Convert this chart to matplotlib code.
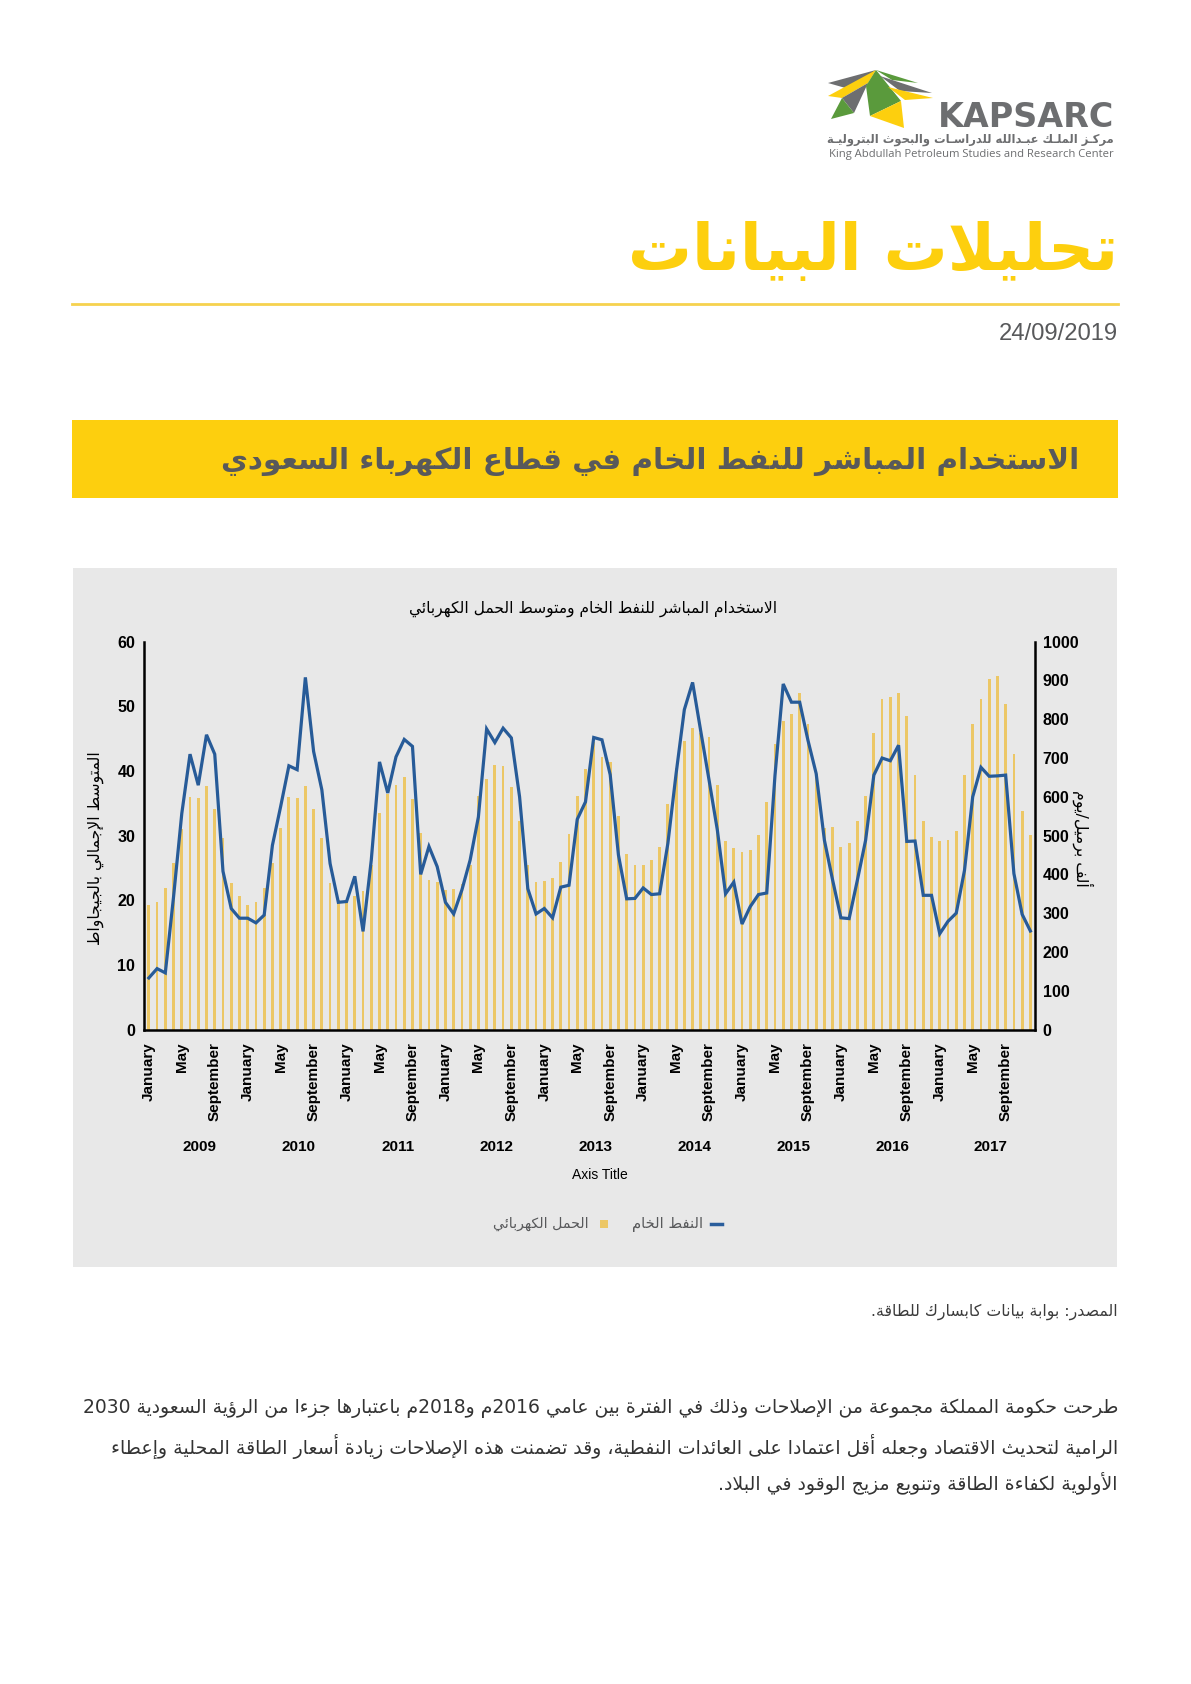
import matplotlib as mpl
mpl.use("Agg")
import matplotlib.pyplot as plt
from matplotlib import font_manager
from matplotlib.patches import Rectangle, Polygon
from matplotlib.lines import Line2D

# ---------------- data ----------------
years = list(range(2009, 2018))
month_names = ["January", "May", "September"]

# average electric load, GW (left axis) - one value per month, Jan 2009 .. Dec 2017
load_gw = [
    19.2, 19.8, 21.9, 25.7, 31.0, 36.0, 35.8, 37.7, 34.1, 29.6, 22.6, 20.7,
    19.2, 19.8, 21.9, 25.8, 31.1, 36.0, 35.8, 37.7, 34.1, 29.6, 22.6, 20.0,
    20.0, 20.6, 21.5, 25.4, 33.5, 36.4, 37.9, 39.1, 35.7, 30.4, 23.1, 22.8,
    21.6, 21.8, 22.5, 25.5, 36.1, 38.8, 41.0, 40.7, 37.5, 32.2, 25.5, 22.8,
    22.9, 23.4, 25.9, 30.2, 36.1, 40.3, 44.5, 42.1, 41.4, 33.0, 27.2, 25.5,
    25.5, 26.2, 28.2, 34.9, 40.5, 44.7, 46.6, 45.8, 45.2, 37.9, 29.1, 28.1,
    27.5, 27.8, 30.1, 35.2, 44.2, 47.8, 48.8, 52.1, 47.2, 39.6, 31.1, 31.3,
    28.3, 28.9, 32.2, 36.2, 45.9, 51.1, 51.4, 52.1, 48.5, 39.4, 32.3, 29.8,
    29.1, 29.3, 30.7, 39.4, 47.2, 51.2, 54.2, 54.7, 50.3, 42.7, 33.8, 30.1,
]

# crude oil burned directly, thousand barrels/day (right axis)
crude_kbd = [
    133, 157, 146, 342, 557, 710, 630, 760, 710, 408, 312, 287,
    287, 275, 295, 475, 575, 680, 670, 908, 717, 618, 428, 328,
    330, 395, 253, 437, 690, 610, 703, 748, 730, 400, 472, 420,
    328, 298, 360, 437, 548, 775, 740, 777, 752, 600, 363, 298,
    312, 288, 367, 372, 542, 587, 753, 747, 657, 450, 337, 338,
    365, 348, 350, 480, 660, 825, 895, 768, 643, 515, 350, 380,
    272, 317, 348, 352, 655, 891, 844, 844, 746, 660, 488, 385,
    288, 286, 385, 488, 656, 700, 693, 733, 485, 486, 346, 346,
    247, 279, 300, 410, 600, 676, 653, 654, 656, 402, 297, 254,
]

page_title = "تحليلات البيانات"
page_date = "24/09/2019"
banner_title = "الاستخدام المُباشر للنفط الخام في قطاع الكهرباء السعودي"
chart_title = "الاستخدام المباشر للنفط الخام ومتوسط الحمل الكهربائي"
left_label = "المتوسط الإجمالي بالجيجاواط"
right_label = "ألف برميل/يوم"
legend_oil = "النفط الخام"
legend_load = "الحمل الكهربائي"
source_note = "المصدر: بوابة بيانات كابسارك للطاقة."
body_lines = [
    "طرحت حكومة المملكة مجموعة مِن الإصلاحات وذلك في الفترة بين عاميّ 2016م و2018م باعتبارها جُزءا من الرؤية السعودية 2030",
    "الرامية لتحديث الاقتصاد وجعله أقل اعتماداً على العائدات النفطية، وقد تضمنت هذه الإصلاحات زيادة أسعار الطاقة المحلية وإعطاء",
    "الأولوية لكفاءة الطاقة وتنويع مزيج الوقود في البلاد.",
]
logo_ar = "مركـز الملـك عبـدالله للدراسـات والبحوث البتروليـة"
logo_en = "King Abdullah Petroleum Studies and Research Center"

YELLOW = "#FDCF0E"
GOLD = "#ECC766"
BLUE = "#2A5E9C"
GREY_TXT = "#58595B"
PANEL = "#E8E8E8"

# ---------------- minimal Arabic shaping + right-to-left ordering ----------------
RJ = {0x622: 0xFE81, 0x623: 0xFE83, 0x624: 0xFE85, 0x625: 0xFE87, 0x627: 0xFE8D,
      0x629: 0xFE93, 0x62F: 0xFEA9, 0x630: 0xFEAB, 0x631: 0xFEAD, 0x632: 0xFEAF,
      0x648: 0xFEED, 0x649: 0xFEEF}
DJ = {0x626: 0xFE89, 0x628: 0xFE8F, 0x62A: 0xFE95, 0x62B: 0xFE99, 0x62C: 0xFE9D,
      0x62D: 0xFEA1, 0x62E: 0xFEA5, 0x633: 0xFEB1, 0x634: 0xFEB5, 0x635: 0xFEB9,
      0x636: 0xFEBD, 0x637: 0xFEC1, 0x638: 0xFEC5, 0x639: 0xFEC9, 0x63A: 0xFECD,
      0x641: 0xFED1, 0x642: 0xFED5, 0x643: 0xFED9, 0x644: 0xFEDD, 0x645: 0xFEE1,
      0x646: 0xFEE5, 0x647: 0xFEE9, 0x64A: 0xFEF1}
LAM_ALEF = {0x622: 0xFEF5, 0x623: 0xFEF7, 0x625: 0xFEF9, 0x627: 0xFEFB}
TATWEEL = 0x640


def is_mark(c):
    o = ord(c)
    return 0x64B <= o <= 0x65F or o == 0x670


def ar(s):
    # harakat are dropped: matplotlib cannot position combining marks
    letters = [c for c in s if not is_mark(c)]
    merged = []
    i = 0
    while i < len(letters):
        c = letters[i]
        if ord(c) == 0x644 and i + 1 < len(letters) and ord(letters[i + 1]) in LAM_ALEF:
            merged.append([chr(LAM_ALEF[ord(letters[i + 1])]), "LA"])
            i += 2
            continue
        o = ord(c)
        kind = "D" if (o in DJ or o == TATWEEL) else "R" if o in RJ else "N"
        merged.append([c, kind])
        i += 1
    out = []
    for i, (c, k) in enumerate(merged):
        if k == "N":
            out.append(c)
            continue
        prev = i > 0 and merged[i - 1][1] == "D"
        nxt = k == "D" and i + 1 < len(merged) and merged[i + 1][1] != "N"
        o = ord(c)
        if k == "LA":
            g = o + (1 if prev else 0)
        elif o == TATWEEL:
            g = o
        else:
            base = DJ.get(o, RJ.get(o))
            g = base + (3 if prev and nxt else 2 if nxt else 1 if prev else 0)
        out.append(chr(g))
    segs = []
    for g in out:
        ltr = g.isascii() and g.isalnum()
        if ltr and segs and segs[-1][0]:
            segs[-1][1].append(g)
        else:
            segs.append([ltr, [g]])
    return "".join("".join(s[1]) for s in reversed(segs))


# ---------------- page ----------------
W, H = 1191, 1684
fig = plt.figure(figsize=(W / 100, H / 100), dpi=100)
fig.patch.set_facecolor("white")
RND = fig.canvas.get_renderer()
installed = {f.name for f in font_manager.fontManager.ttflist}
NARROW = "Liberation Sans Narrow" if "Liberation Sans Narrow" in installed else "Liberation Sans"
AR = ["DejaVu Sans"]


def fx(x):
    return x / W


def fy(y):
    return 1 - y / H


def put(x, y, s, width=None, size=10, **kw):
    t = fig.text(fx(x), fy(y), s, fontsize=size, **kw)
    if width:
        bb = t.get_window_extent(RND)
        rot = kw.get("rotation", 0)
        w = bb.height if rot in (90, 270, -90) else bb.width
        t.set_fontsize(size * width / w)
    return t


def rect(x0, y0, x1, y1, **kw):
    fig.patches.append(Rectangle((fx(x0), fy(y1)), fx(x1) - fx(x0), (y1 - y0) / H,
                                 transform=fig.transFigure, figure=fig, **kw))


# logo
logo = [
    ("#6D6E70", [(828, 83), (876, 70), (849, 89)]),
    (YELLOW, [(828, 96), (876, 70), (868, 83), (842, 98)]),
    ("#6D6E70", [(842, 98), (868, 83), (854, 113)]),
    ("#5A9A3C", [(831, 119), (842, 98), (854, 113)]),
    ("#5A9A3C", [(876, 70), (901, 101), (870, 116), (866, 86)]),
    (YELLOW, [(870, 116), (901, 101), (904, 128)]),
    ("#5A9A3C", [(876, 70), (918, 83), (892, 80)]),
    ("#6D6E70", [(880, 76), (932, 93), (900, 91)]),
    (YELLOW, [(888, 87), (933, 98), (905, 100)]),
]
for col, pts in logo:
    fig.patches.append(Polygon([(fx(a), fy(b)) for a, b in pts], closed=True,
                               transform=fig.transFigure, figure=fig,
                               fc=col, ec="none"))
put(1114, 127, "KAPSARC", size=24, family="DejaVu Sans", weight="bold",
    color="#6D6E70", ha="right", va="baseline")
put(1114, 140, ar(logo_ar), width=287, size=9, family=AR, weight="bold",
    color="#6D6E70", ha="right", va="center")
put(1114, 154, logo_en, width=287, size=8, family="Open Sans",
    color="#6D6E70", ha="right", va="center")

# title, rule, date, banner
put(1118, 252, ar(page_title), width=490, size=44, family=AR, weight="bold",
    color=YELLOW, ha="right", va="center")
fig.add_artist(Line2D([fx(72), fx(1118)], [fy(304), fy(304)], color="#F6D24E", lw=2))
put(1118, 334, page_date, width=119, size=18, family=NARROW,
    color=GREY_TXT, ha="right", va="center")
rect(72, 420, 1118, 498, fc=YELLOW, ec="none")
put(1079, 461, ar(banner_title), width=859, size=24, family=AR, weight="bold",
    color=GREY_TXT, ha="right", va="center")

# chart panel (behind the axes)
rect(73, 568, 1117, 1267, fc=PANEL, ec="none", zorder=-1)
put(593, 609, ar(chart_title), width=368, size=10, family=AR,
    color="black", ha="center", va="center")

AX_L, AX_R, AX_T, AX_B = 144.3, 1034.5, 641.7, 1029.5
ax = fig.add_axes([fx(AX_L), fy(AX_B), (AX_R - AX_L) / W, (AX_B - AX_T) / H])
ax.set_facecolor("none")
months = list(range(len(load_gw)))
ax.bar(months, load_gw, width=0.34, color=GOLD, zorder=2)
ax.set_xlim(-0.55, 107.5)
ax.set_ylim(0, 60)
ax.set_yticks(range(0, 61, 10))
ax.set_xticks(months[::4])
ax.set_xticklabels([month_names[(m % 12) // 4] for m in months[::4]],
                   rotation=90, va="top", ha="center")
for sp in ("top", "right"):
    ax.spines[sp].set_visible(False)
for sp in ("left", "bottom"):
    ax.spines[sp].set_linewidth(1.8)
ax.tick_params(axis="y", length=0, pad=6.5, labelsize=11.5)
ax.tick_params(axis="x", length=0, pad=9, labelsize=11)
for lab in ax.get_xticklabels() + ax.get_yticklabels():
    lab.set_fontweight("bold")
    lab.set_family("Liberation Sans")

ax2 = ax.twinx()
ax2.plot(months, crude_kbd, color="#275B98", lw=2.3, solid_joinstyle="miter", zorder=3)
ax2.set_ylim(0, 1000)
ax2.set_yticks(range(0, 1001, 100))
for sp in ("top", "left", "bottom"):
    ax2.spines[sp].set_visible(False)
ax2.spines["right"].set_linewidth(1.8)
ax2.tick_params(axis="y", length=0, pad=5.8, labelsize=11.5)
for lab in ax2.get_yticklabels():
    lab.set_fontweight("bold")
    lab.set_family("Liberation Sans")

for k, yr in enumerate(years):
    ax.text(12 * k + 6.2, -(1147 - AX_B) / (AX_B - AX_T), str(yr),
            transform=ax.get_xaxis_transform(), ha="center", va="center",
            fontsize=11, fontweight="bold", family="Liberation Sans")
put(600, 1175, "Axis Title", size=10, family=NARROW, ha="center", va="center")

put(96, 848, ar(left_label), width=193, size=11, family=AR, rotation=90,
    ha="center", va="center")
put(1083, 838, ar(right_label), width=97, size=11, family=AR, rotation=-90,
    ha="center", va="center")

# legend
fig.add_artist(Line2D([fx(711), fx(722)], [fy(1224), fy(1224)], color=BLUE, lw=2.5))
put(703, 1224, ar(legend_oil), width=71, size=10, family=AR, color=GREY_TXT,
    ha="right", va="center")
rect(600, 1220, 608, 1228, fc=GOLD, ec="none", zorder=3)
put(589, 1224, ar(legend_load), width=95, size=10, family=AR, color=GREY_TXT,
    ha="right", va="center")

# source and body text
put(1118, 1312, ar(source_note), width=246, size=10, family=AR, color="#3C3C3C",
    ha="right", va="center")
sizes = []
for txt, y, w in zip(body_lines[:2], (1408, 1446), (1030, 1004)):
    t = put(1118, y, ar(txt), width=w, size=13, family=AR, color="#333333",
            ha="right", va="center")
    sizes.append(t.get_fontsize())
put(1118, 1483, ar(body_lines[2]), size=sum(sizes) / 2, family=AR, color="#333333",
    ha="right", va="center")

fig.savefig("out.png", dpi=100, facecolor="white")
